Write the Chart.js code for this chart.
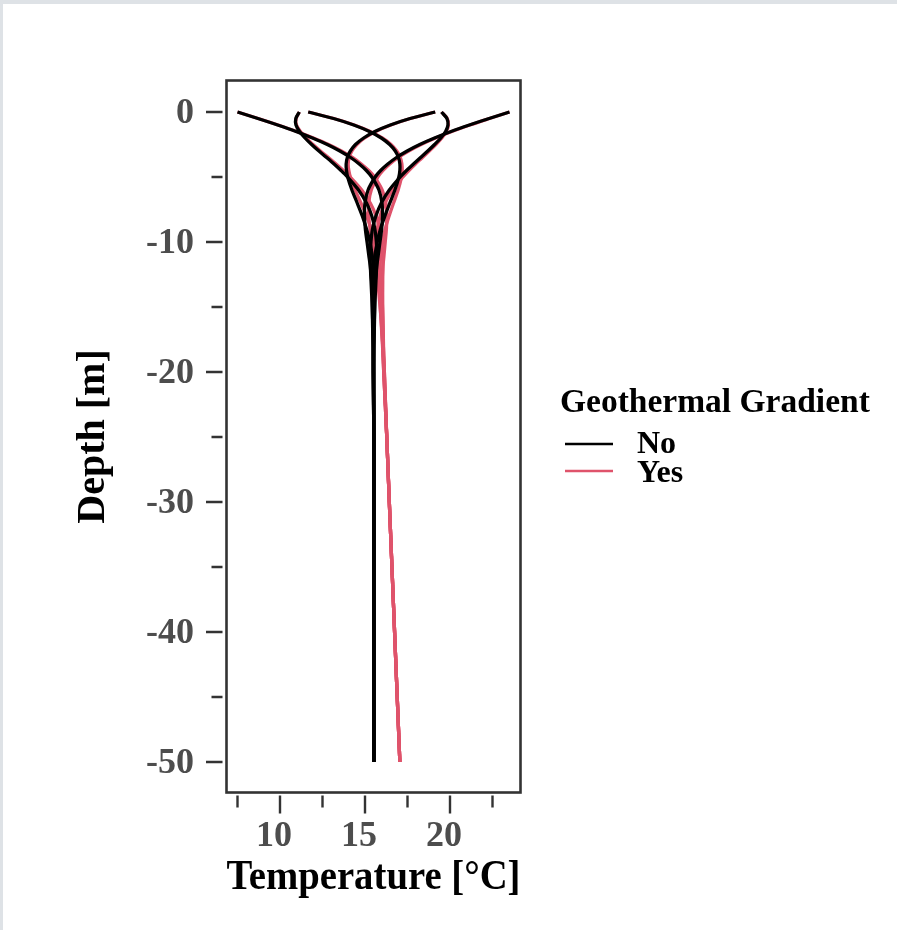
<!DOCTYPE html>
<html>
<head>
<meta charset="utf-8">
<script src="https://cdn.jsdelivr.net/npm/chart.js@4.4.1/dist/chart.umd.min.js"></script>
<style>
  html, body { margin: 0; padding: 0; background: #dee2e6; }
  #wrap { position: absolute; left: 3px; top: 4px; width: 894px; height: 926px; background: #fff; }
  canvas { display: block; }
</style>
</head>
<body>
<div id="wrap"><canvas id="chart" width="894" height="926"></canvas></div>
<script>
// depth profiles of ground temperature, 6 dates each, without / with geothermal gradient

var depths = [0, 0.5, 1, 1.5, 2, 2.5, 3, 3.5, 4, 4.5, 5, 6, 7, 8, 9, 10, 11, 12, 14, 16, 18, 20, 25, 30, 40, 50];

// Geothermal Gradient = No
var noCurve1 = [23.5, 22.30, 21.14, 20.06, 19.09, 18.22, 17.48, 16.85, 16.34, 15.92, 15.60, 15.18, 15.00, 14.97, 15.02, 15.12, 15.22, 15.32, 15.45, 15.51, 15.52, 15.52, 15.52, 15.52, 15.52, 15.52];
var noCurve2 = [19.5, 19.82, 19.88, 19.74, 19.46, 19.09, 18.69, 18.27, 17.85, 17.44, 17.07, 16.43, 15.96, 15.64, 15.44, 15.35, 15.31, 15.32, 15.39, 15.45, 15.49, 15.51, 15.52, 15.52, 15.52, 15.52];
var noCurve3 = [11.66, 13.15, 14.34, 15.26, 15.96, 16.45, 16.78, 16.97, 17.05, 17.05, 16.99, 16.76, 16.46, 16.17, 15.91, 15.72, 15.59, 15.50, 15.44, 15.44, 15.47, 15.48, 15.52, 15.52, 15.52, 15.52];
var noCurve4 = [7.5, 8.70, 9.86, 10.94, 11.91, 12.78, 13.52, 14.15, 14.66, 15.08, 15.40, 15.82, 16.00, 16.03, 15.98, 15.88, 15.78, 15.68, 15.55, 15.49, 15.48, 15.48, 15.52, 15.52, 15.52, 15.52];
var noCurve5 = [11.14, 10.93, 10.94, 11.15, 11.47, 11.86, 12.29, 12.74, 13.18, 13.59, 13.97, 14.62, 15.09, 15.40, 15.58, 15.67, 15.70, 15.68, 15.61, 15.55, 15.51, 15.49, 15.52, 15.52, 15.52, 15.52];
var noCurve6 = [19.13, 17.65, 16.49, 15.58, 14.92, 14.44, 14.14, 13.96, 13.89, 13.91, 13.98, 14.23, 14.54, 14.84, 15.09, 15.29, 15.42, 15.50, 15.56, 15.56, 15.53, 15.52, 15.52, 15.52, 15.52, 15.52];

// Geothermal Gradient = Yes
var yesCurve1 = [23.5, 22.32, 21.17, 20.11, 19.15, 18.30, 17.57, 16.96, 16.46, 16.06, 15.76, 15.37, 15.22, 15.22, 15.30, 15.43, 15.56, 15.69, 15.88, 16.01, 16.08, 16.14, 16.28, 16.43, 16.74, 17.05];
var yesCurve2 = [19.5, 19.84, 19.91, 19.79, 19.52, 19.17, 18.78, 18.38, 17.97, 17.58, 17.23, 16.62, 16.18, 15.89, 15.72, 15.66, 15.65, 15.69, 15.82, 15.95, 16.05, 16.13, 16.28, 16.43, 16.74, 17.05];
var yesCurve3 = [11.66, 13.17, 14.37, 15.31, 16.02, 16.53, 16.87, 17.08, 17.17, 17.19, 17.15, 16.95, 16.68, 16.42, 16.19, 16.03, 15.93, 15.87, 15.87, 15.94, 16.03, 16.10, 16.28, 16.43, 16.74, 17.05];
var yesCurve4 = [7.5, 8.72, 9.89, 10.99, 11.97, 12.86, 13.61, 14.26, 14.78, 15.22, 15.56, 16.01, 16.22, 16.28, 16.26, 16.19, 16.12, 16.05, 15.98, 15.99, 16.04, 16.10, 16.28, 16.43, 16.74, 17.05];
var yesCurve5 = [11.14, 10.95, 10.97, 11.20, 11.53, 11.94, 12.38, 12.85, 13.30, 13.73, 14.13, 14.81, 15.31, 15.65, 15.86, 15.98, 16.04, 16.05, 16.04, 16.05, 16.07, 16.11, 16.28, 16.43, 16.74, 17.05];
var yesCurve6 = [19.13, 17.67, 16.52, 15.63, 14.98, 14.52, 14.23, 14.07, 14.01, 14.05, 14.14, 14.42, 14.76, 15.09, 15.37, 15.60, 15.76, 15.87, 15.99, 16.06, 16.09, 16.14, 16.28, 16.43, 16.74, 17.05];

var groupNames = ['No', 'Yes'];
var groupColors = ['#000000', '#DF536B'];

var xMajorTicks = [10, 15, 20];
var xMinorTicks = [7.5, 12.5, 17.5, 22.5];
var yMajorTicks = [0, -10, -20, -30, -40, -50];
var yMinorTicks = [-5, -15, -25, -35, -45];

var FONT = '"Liberation Serif", "DejaVu Serif", serif';

function toPoints(temps) {
  return temps.map(function (t, i) { return { x: t, y: -depths[i] }; });
}

var datasets = [];
// black first so it is painted on top of the pink
[noCurve1, noCurve2, noCurve3, noCurve4, noCurve5, noCurve6].forEach(function (c) {
  datasets.push({ label: 'No', data: toPoints(c), borderColor: groupColors[0] });
});
[yesCurve1, yesCurve2, yesCurve3, yesCurve4, yesCurve5, yesCurve6].forEach(function (c) {
  datasets.push({ label: 'Yes', data: toPoints(c), borderColor: groupColors[1] });
});

// panel border + tick marks (axes sit a little away from the panel)
var frame = {
  id: 'frame',
  afterDatasetsDraw: function (chart) {
    var ctx = chart.ctx, a = chart.chartArea;
    var xs = chart.scales.x, ys = chart.scales.y;
    ctx.save();
    ctx.strokeStyle = '#333333';
    ctx.lineWidth = 2.6;
    ctx.strokeRect(a.left, a.top, a.right - a.left, a.bottom - a.top);
    ctx.lineWidth = 2.4;
    ctx.beginPath();
    yMajorTicks.forEach(function (v) {
      var y = ys.getPixelForValue(v);
      ctx.moveTo(a.left - 20.5, y); ctx.lineTo(a.left - 4, y);
    });
    yMinorTicks.forEach(function (v) {
      var y = ys.getPixelForValue(v);
      ctx.moveTo(a.left - 15, y); ctx.lineTo(a.left - 4, y);
    });
    xMajorTicks.forEach(function (v) {
      var x = xs.getPixelForValue(v);
      ctx.moveTo(x, a.bottom + 3); ctx.lineTo(x, a.bottom + 21);
    });
    xMinorTicks.forEach(function (v) {
      var x = xs.getPixelForValue(v);
      ctx.moveTo(x, a.bottom + 3); ctx.lineTo(x, a.bottom + 15);
    });
    ctx.stroke();
    ctx.restore();
  }
};

// legend drawn beside the panel
var sideLegend = {
  id: 'sideLegend',
  afterDraw: function (chart) {
    var ctx = chart.ctx;
    ctx.save();
    ctx.fillStyle = '#000';
    ctx.textBaseline = 'alphabetic';
    ctx.font = 'bold 33.5px ' + FONT;
    ctx.fillText('Geothermal Gradient', 557, 408);
    groupNames.forEach(function (name, i) {
      var y = 440 + i * 27;
      ctx.strokeStyle = groupColors[i];
      ctx.lineWidth = 2.6;
      ctx.beginPath();
      ctx.moveTo(562, y); ctx.lineTo(610, y);
      ctx.stroke();
      ctx.font = 'bold 32px ' + FONT;
      ctx.fillText(name, 634, 449 + i * 29);
    });
    ctx.restore();
  }
};

new Chart(document.getElementById('chart'), {
  type: 'scatter',
  data: { datasets: datasets },
  options: {
    responsive: false,
    devicePixelRatio: 1,
    animation: false,
    showLine: true,
    layout: { padding: { left: 0, top: 76.5, right: 376.5, bottom: 0 } },
    elements: {
      point: { radius: 0, hoverRadius: 0 },
      line: { borderWidth: 3.3, tension: 0.3, fill: false }
    },
    plugins: { legend: { display: false }, tooltip: { enabled: false } },
    scales: {
      x: {
        type: 'linear',
        min: 6.853, max: 24.147,
        afterBuildTicks: function (s) { s.ticks = xMajorTicks.map(function (v) { return { value: v }; }); },
        afterFit: function (s) { s.height = 137.5; },
        grid: { display: false, drawTicks: false },
        border: { display: false },
        ticks: {
          padding: 23, labelOffset: -6, maxRotation: 0, autoSkip: false,
          color: '#4d4d4d', font: { family: FONT, size: 36, weight: 'bold' }
        },
        title: {
          display: true, text: 'Temperature [°C]', color: '#000',
          font: { family: FONT, size: 41.5, weight: 'bold', lineHeight: 1 },
          padding: { top: 0, bottom: 31 }
        }
      },
      y: {
        type: 'linear',
        min: -52.346, max: 2.423,
        afterBuildTicks: function (s) { s.ticks = yMajorTicks.map(function (v) { return { value: v }; }); },
        afterFit: function (s) { s.width = 223.5; },
        grid: { display: false, drawTicks: false },
        border: { display: false },
        ticks: {
          padding: 32.5, autoSkip: false, labelOffset: 2,
          color: '#4d4d4d', font: { family: FONT, size: 36, weight: 'bold' },
          callback: function (v) { return v < 0 ? '-' + Math.abs(v) : String(v); }
        },
        title: {
          display: true, text: 'Depth [m]', color: '#000',
          font: { family: FONT, size: 40, weight: 'bold', lineHeight: 1 },
          padding: { top: 71, bottom: 0 }
        }
      }
    }
  },
  plugins: [frame, sideLegend]
});
</script>
</body>
</html>
